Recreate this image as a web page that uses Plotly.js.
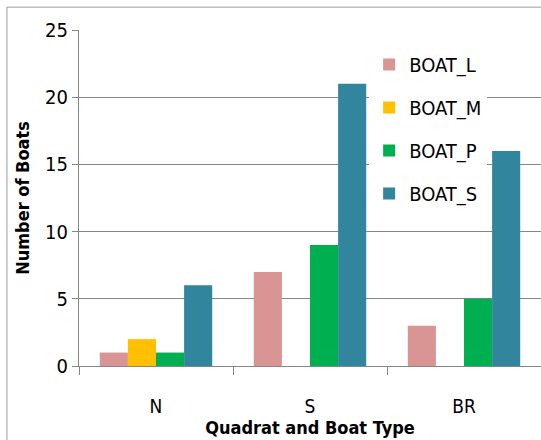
<!DOCTYPE html>
<html><head><meta charset="utf-8">
<script src="https://cdn.plot.ly/plotly-3.0.1.min.js"></script>
<style>html,body{margin:0;padding:0;background:#fff}#chart{width:541px;height:440px}</style>
</head><body><div id="chart"></div>
<script>
const categories = ["N", "S", "BR"];
const seriesNames = ["BOAT_L", "BOAT_M", "BOAT_P", "BOAT_S"];
const boatL = [1, 7, 3];
const boatM = [2, 0, 0];
const boatP = [1, 9, 5];
const boatS = [6, 21, 16];
const yTicks = [0, 5, 10, 15, 20, 25];

const colors = ["#D99594", "#FFC000", "#00B050", "#31859C"];
const values = [boatL, boatM, boatP, boatS];
const FONT = "DejaVu Sans Condensed, Liberation Sans Narrow, sans-serif";

const data = seriesNames.map((n, i) => ({
  type: "bar", name: n, x: categories, y: values[i],
  marker: {color: colors[i], line: {width: 0}},
  legendgroup: n, hoverinfo: "x+y+name"
}));

const layout = {
  width: 541, height: 440,
  margin: {l: 79, r: 0, t: 30, b: 74},
  paper_bgcolor: "#fff", plot_bgcolor: "#fff",
  bargap: 0.27, bargroupgap: 0,
  font: {family: FONT, color: "#000", size: 16},
  xaxis: {
    type: "category", showgrid: false, showline: true, linecolor: "#868686", linewidth: 1,
    ticks: "outside", tickson: "boundaries", ticklen: 8, tickcolor: "#868686",
    ticklabelstandoff: 23, tickfont: {family: FONT, size: 19},
    title: {text: "<b>Quadrat and Boat Type</b>", font: {family: FONT, size: 18}, standoff: 0},
    fixedrange: true
  },
  yaxis: {
    range: [0, 25], tickvals: yTicks, showgrid: true, gridcolor: "#868686", gridwidth: 1,
    showline: true, linecolor: "#868686", ticks: "outside", ticklen: 6, tickcolor: "#868686",
    tickfont: {family: FONT, size: 20}, zeroline: false,
    title: {text: "<b>Number of Boats</b>", font: {family: FONT, size: 18}, standoff: 10},
    fixedrange: true
  },
  legend: {
    x: 0.628, y: 0.955, xanchor: "left", yanchor: "top",
    bgcolor: "#fff", borderwidth: 0, traceorder: "grouped", tracegroupgap: 14,
    font: {family: FONT, size: 20}, itemwidth: 30
  },
  showlegend: true,
  shapes: [{type: "rect", xref: "paper", yref: "paper", x0: -0.156, x1: 1.2, y0: -0.4, y1: 1.068,
    line: {color: "#9a9a9a", width: 1}, layer: "below"}]
};
Plotly.newPlot("chart", data, layout, {staticPlot: true, displayModeBar: false});
</script></body></html>
